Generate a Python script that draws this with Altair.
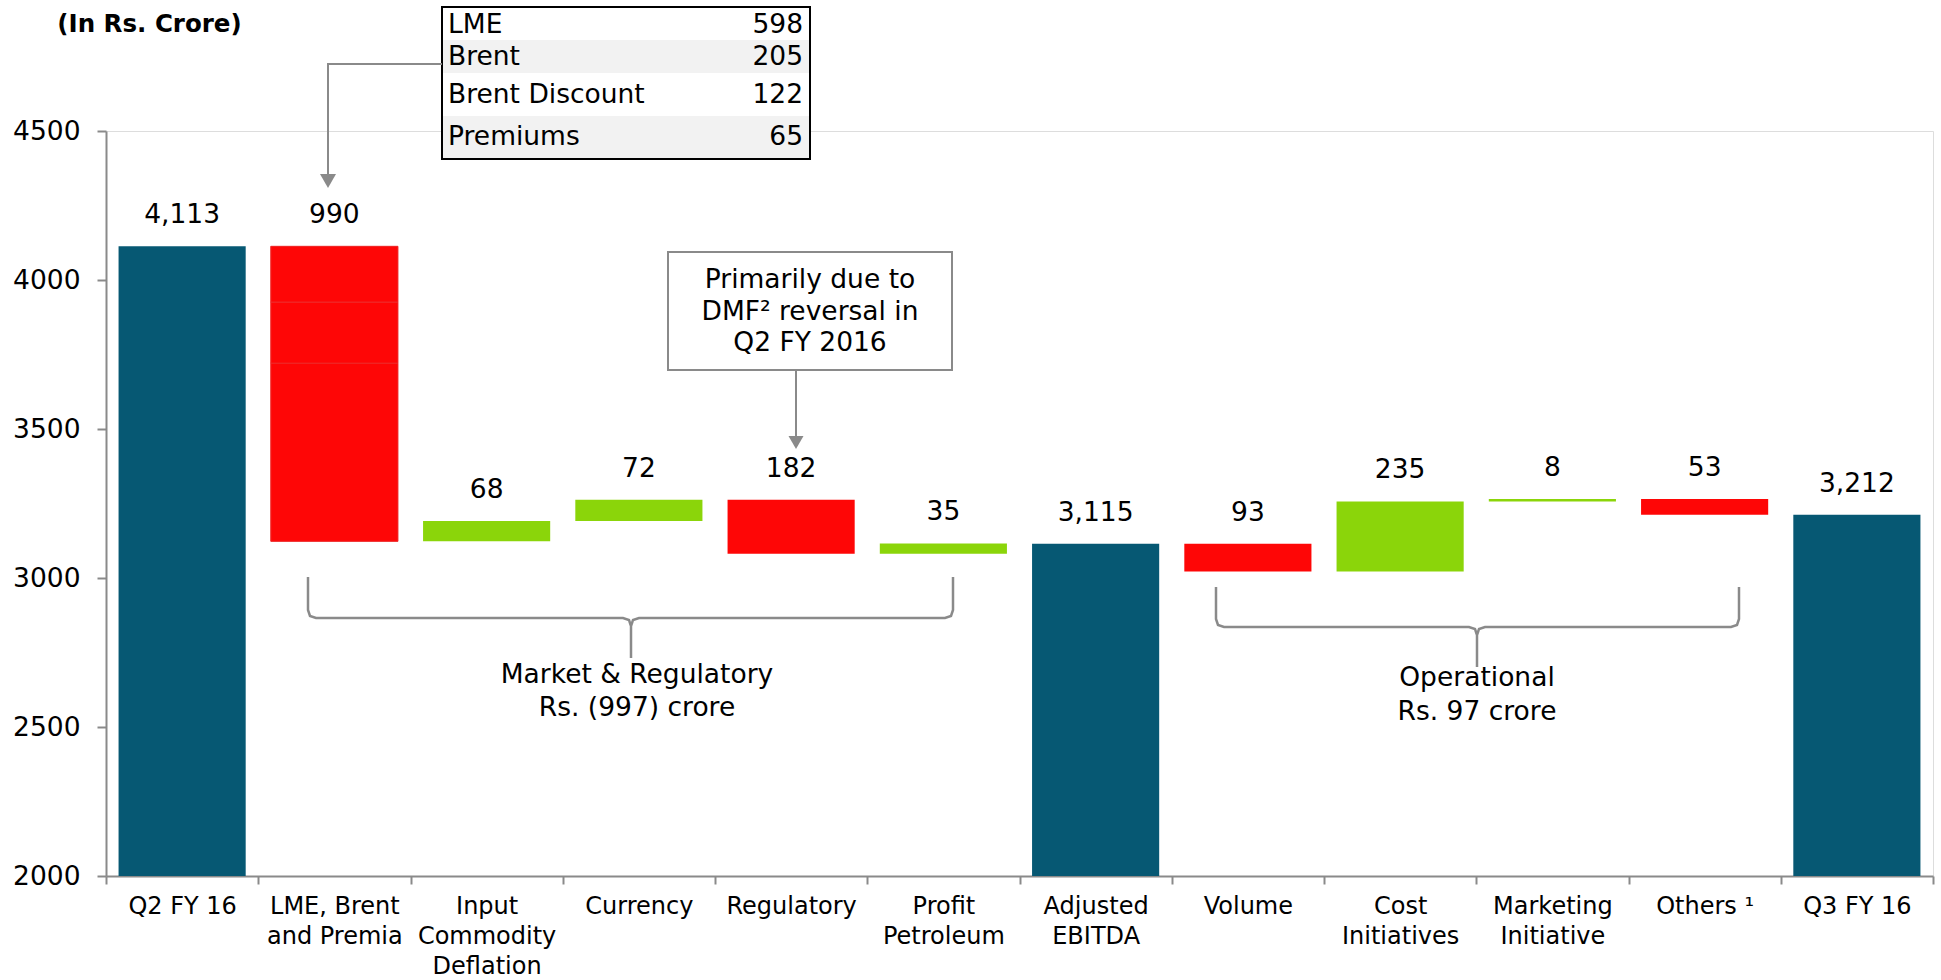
import altair as alt
import pandas as pd

# ---------------- data ----------------
categories = ["Q2 FY 16", "LME, Brent|and Premia", "Input|Commodity|Deflation", "Currency",
              "Regulatory", "Profit|Petroleum", "Adjusted|EBITDA", "Volume",
              "Cost|Initiatives", "Marketing|Initiative", "Others ¹", "Q3 FY 16"]
kinds = ["total", "down", "up", "up", "down", "up", "total", "down", "up", "up", "down", "total"]
amounts = [4113, 990, 68, 72, 182, 35, 3115, 93, 235, 8, 53, 3212]

lme_items = ["LME", "Brent", "Brent Discount", "Premiums"]
lme_values = [598, 205, 122, 65]

y_ticks = [2000, 2500, 3000, 3500, 4000, 4500]

note_lines = ["Primarily due to", "DMF² reversal in", "Q2 FY 2016"]
market_lines = ["Market & Regulatory", "Rs. (997) crore"]
oper_lines = ["Operational", "Rs. 97 crore"]
unit_title = "(In Rs. Crore)"

# ---------------- waterfall table ----------------
rows = []
running = 0
for cat, kind, amt in zip(categories, kinds, amounts):
    if kind == "total":
        start, end = 0, amt
        running = amt
        label = f"{amt:,}"
    elif kind == "up":
        start, end = running, running + amt
        running = end
        label = str(amt)
    else:
        start, end = running, running - amt
        running = end
        label = str(amt)
    rows.append(dict(cat=cat, kind=kind, start=start, end=end, top=max(start, end), label=label))
bars_df = pd.DataFrame(rows)

# LME bar split into stacked pieces (LME, Brent, Brent Discount + Premiums)
lme_row = bars_df.iloc[1]
seg_vals = [lme_values[0], lme_values[1], lme_values[2] + lme_values[3]]
segs = []
base = lme_row["end"]
for v in seg_vals:
    segs.append(dict(cat=lme_row["cat"], s=base, e=base + v))
    base += v
seg_df = pd.DataFrame(segs)

FONT = "DejaVu Sans"
BLUE, RED, GREEN = "#065873", "#FE0606", "#8BD50A"
GREY = "#8a8a8a"

xscale = alt.Scale(domain=categories, paddingInner=0, paddingOuter=0)
yscale = alt.Scale(domain=[2000, 4500], nice=False, zero=False, clamp=True)

bars = alt.Chart(bars_df).mark_bar(width=alt.RelativeBandSize(0.835)).encode(
    x=alt.X("cat:N", scale=xscale, sort=categories, title=None,
            axis=alt.Axis(labelExpr="split(datum.label, '|')", labelAngle=0, labelFontSize=24,
                          labelLineHeight=30, labelPadding=10, labelColor="black", labelFont=FONT,
                          labelLimit=300, labelOverlap=False, tickBand="extent", tickSize=8,
                          tickColor=GREY, tickWidth=2, domainColor=GREY, domainWidth=2)),
    y=alt.Y("start:Q", scale=yscale, title=None,
            axis=alt.Axis(values=y_ticks, format="d", grid=False, labelFontSize=26.5,
                          labelColor="black", labelFont=FONT, labelPadding=17, tickSize=9,
                          tickColor=GREY, tickWidth=2, domainColor=GREY, domainWidth=2)),
    y2="end:Q",
    color=alt.Color("kind:N", scale=alt.Scale(domain=["total", "down", "up"], range=[BLUE, RED, GREEN]),
                    legend=None),
)

seg_layer = alt.Chart(seg_df).mark_bar(width=alt.RelativeBandSize(0.835), color=RED,
                                       stroke="#EE2C2C", strokeWidth=1).encode(
    x=alt.X("cat:N", scale=xscale, sort=categories),
    y=alt.Y("s:Q", scale=yscale),
    y2="e:Q",
)

labels = alt.Chart(bars_df).mark_text(dy=-31, fontSize=26.5, baseline="middle", font=FONT,
                                      color="black").encode(
    x=alt.X("cat:N", scale=xscale, sort=categories),
    y=alt.Y("top:Q", scale=yscale),
    text="label:N",
)

data_layer = alt.layer(bars, seg_layer, labels)

# ---------------- annotations (pixel coordinates of the plot area) ----------------
def px(col):
    return alt.X(f"{col}:Q", scale=None, axis=None)

def py(col):
    return alt.Y(f"{col}:Q", scale=None, axis=None)

rect_df = pd.DataFrame([
    dict(x=336, x2=704, y=-124, y2=28, fill="white", stroke="black", sw=2),
    dict(x=337, x2=703, y=-91, y2=-58, fill="#F2F2F2", stroke="transparent", sw=0),
    dict(x=337, x2=703, y=-15, y2=27, fill="#F2F2F2", stroke="transparent", sw=0),
    dict(x=562, x2=846, y=121, y2=239, fill="white", stroke=GREY, sw=2),
])
rects = alt.Chart(rect_df).mark_rect().encode(
    x=px("x"), x2="x2:Q", y=py("y"), y2="y2:Q",
    fill=alt.Fill("fill:N", scale=None),
    stroke=alt.Stroke("stroke:N", scale=None),
    strokeWidth=alt.StrokeWidth("sw:Q", scale=None),
)

def bracket(name, lx, rx, cx, top, hy, tip, r=8):
    pts = [(lx, top), (lx, hy - r), (lx + 2, hy - 2), (lx + r, hy),
           (cx - r, hy), (cx - 2, hy + 2), (cx, hy + r), (cx, tip),
           (cx, hy + r), (cx + 2, hy + 2), (cx + r, hy),
           (rx - r, hy), (rx - 2, hy - 2), (rx, hy - r), (rx, top)]
    return [dict(path=name, o=i, x=x, y=y, w=2.5) for i, (x, y) in enumerate(pts)]

line_rows = []
for i, (x, y) in enumerate([(336, -67), (222, -67), (222, 46)]):
    line_rows.append(dict(path="arrow1", o=i, x=x, y=y, w=2))
for i, (x, y) in enumerate([(690, 239), (690, 306)]):
    line_rows.append(dict(path="arrow2", o=i, x=x, y=y, w=2))
line_rows += bracket("b1", 202, 847, 525, 446, 487, 527)
line_rows += bracket("b2", 1110, 1633, 1371, 456, 496, 536)
line_df = pd.DataFrame(line_rows)
lines = alt.Chart(line_df).mark_line(color=GREY).encode(
    x=px("x"), y=py("y"), detail="path:N", order="o:Q",
    strokeWidth=alt.StrokeWidth("w:Q", scale=None),
)

head_df = pd.DataFrame([dict(x=222, y=50, s=256), dict(x=690, y=311.5, s=225)])
heads = alt.Chart(head_df).mark_point(shape="triangle-down", filled=True, color=GREY, opacity=1).encode(
    x=px("x"), y=py("y"), size=alt.Size("s:Q", scale=None),
)

tbl_left = pd.DataFrame(dict(t=lme_items, x=[342] * 4, y=[-106, -74, -36, 6]))
tbl_right = pd.DataFrame(dict(t=[str(v) for v in lme_values], x=[697] * 4, y=[-106, -74, -36, 6]))
t_left = alt.Chart(tbl_left).mark_text(align="left", baseline="middle", fontSize=26.5, font=FONT,
                                       color="black").encode(x=px("x"), y=py("y"), text="t:N")
t_right = alt.Chart(tbl_right).mark_text(align="right", baseline="middle", fontSize=26.5, font=FONT,
                                         color="black").encode(x=px("x"), y=py("y"), text="t:N")

center_df = pd.DataFrame(
    [dict(t=s, x=704, y=y) for s, y in zip(note_lines, [149, 181, 212])]
    + [dict(t=s, x=531, y=y) for s, y in zip(market_lines, [544, 577])]
    + [dict(t=s, x=1371, y=y) for s, y in zip(oper_lines, [547, 581])]
)
t_center = alt.Chart(center_df).mark_text(align="center", baseline="middle", fontSize=26.5, font=FONT,
                                          color="black").encode(x=px("x"), y=py("y"), text="t:N")

title_df = pd.DataFrame([dict(t=unit_title, x=43.5, y=-118)])
t_title = alt.Chart(title_df).mark_text(align="center", baseline="top", fontSize=24.5,
                                        fontWeight="bold", font=FONT, color="black").encode(
    x=px("x"), y=py("y"), text="t:N")

chart = alt.layer(data_layer, rects, lines, heads, t_left, t_right, t_center, t_title).resolve_scale(
    x="independent", y="independent"
).properties(
    width=1827, height=745,
    padding={"left": 106, "top": 131, "right": 8, "bottom": 104},
    autosize=alt.AutoSizeParams(type="none"),
).configure_view(stroke=None).configure(font=FONT)

chart.save("out.html", embed_options={"renderer": "svg", "actions": False})
